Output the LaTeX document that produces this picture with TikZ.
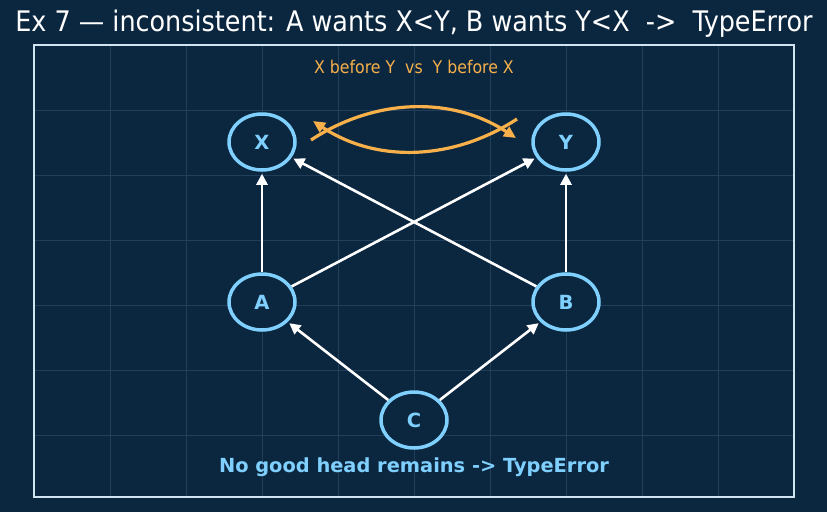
\documentclass[tikz,border=0pt]{standalone}
\usepackage{fontspec}
\setmainfont{DejaVu Sans}
\newfontfamily\condfont{DejaVu Sans Condensed}
\usetikzlibrary{shapes.geometric,arrows.meta}
\definecolor{bgc}{HTML}{0B2740}
\definecolor{gridc}{HTML}{213F5A}
\definecolor{framec}{HTML}{CFE3F0}
\definecolor{nodec}{HTML}{7FD0FF}
\definecolor{orangec}{HTML}{F7B04A}
\tikzset{
  vert/.style={ellipse, draw=nodec, line width=3.5pt, fill=bgc, minimum width=66pt, minimum height=56pt, inner sep=0pt, text=nodec, font=\bfseries\fontsize{19.5}{19.5}\selectfont},
  edge/.style={draw=white, line width=2.6pt, -{Triangle[length=11pt,width=11pt]}, shorten >=2pt},
  oarrow/.style={draw=orangec, line width=3.2pt, -{Triangle[length=12pt,width=11pt]}},
}
\begin{document}
\begin{tikzpicture}[x=1pt,y=-1pt]
\fill[bgc] (0,0) rectangle (827,512);
\useasboundingbox (0,0) rectangle (827,512);
\foreach \gx in {110,186,262,338,414,490,566,642,718}
  \draw[gridc, line width=0.7pt] (\gx,45) -- (\gx,497);
\foreach \gy in {110,175,240,305,370,435}
  \draw[gridc, line width=0.7pt] (34,\gy) -- (794,\gy);
\draw[framec, line width=1.6pt] (34,45) rectangle (794,497);
\node[text=white, font=\condfont\fontsize{28.3}{28.3}\selectfont] (title) at (414,24) {Ex 7 — inconsistent: A wants X<Y, B wants Y<X\ \ ->\ \ TypeError};
\node[text=orangec, font=\condfont\fontsize{17.5}{17.5}\selectfont] (sub) at (414,67) {X before Y\ \ vs\ \ Y before X};
\node[text=nodec, font=\bfseries\fontsize{19.4}{19.4}\selectfont] (foot) at (414,467) {No good head remains -> TypeError};
\node[vert] (X) at (262,142) {X};
\node[vert] (Y) at (566,142) {Y};
\node[vert] (A) at (262,302) {A};
\node[vert] (B) at (566,302) {B};
\node[vert] (C) at (414,420) {C};
\draw[edge] (A) -- (X);
\draw[edge] (B) -- (Y);
\draw[edge] (A) -- (Y);
\draw[edge] (B) -- (X);
\draw[edge] (C) -- (A);
\draw[edge] (C) -- (B);
\coordinate (u1) at (311,140);
\coordinate (u2) at (516,138);
\coordinate (l1) at (517,119);
\coordinate (l2) at (313,121);
\draw[oarrow] (u1) .. controls (375,98) and (452,96) .. (u2);
\draw[oarrow] (l1) .. controls (453,161) and (376,163) .. (l2);
\end{tikzpicture}
\end{document}
